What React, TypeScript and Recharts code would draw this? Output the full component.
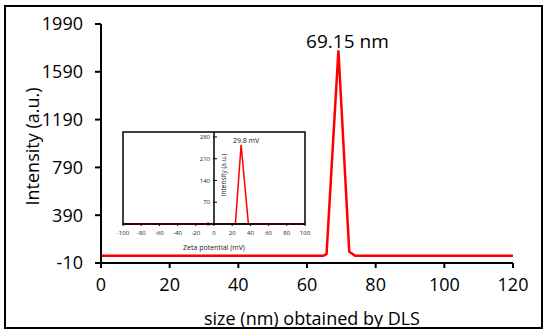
import { LineChart, Line, XAxis, YAxis, ReferenceLine, ReferenceDot, ReferenceArea } from 'recharts';

// main DLS curve
const sizeNm = [0, 64.8, 65.7, 69.15, 72.3, 74, 120];
const dlsIntensity = [50, 50, 66, 1770, 85, 50, 50];
const sizeTicks = [0, 20, 40, 60, 80, 100, 120];
const intensityTicks = [-10, 390, 790, 1190, 1590, 1990];
const peakLabel = '69.15 nm';

// inset zeta curve
const zetaMv = [-100, 23.5, 29.8, 37.8, 100];
const zetaIntensity = [0, 0, 255, 0, 0];
const zetaTicks = [-100, -80, -60, -40, -20, 0, 20, 40, 60, 80, 100];
const zetaIntensityTicks = [0, 70, 140, 210, 280];
const zetaLabel = '29.8 mV';

const dlsData = sizeNm.map((size, i) => ({ size, intensity: dlsIntensity[i] }));
const zetaData = zetaMv.map((mv, i) => ({ mv, intensity: zetaIntensity[i] }));

const FONT = '"Open Sans", sans-serif';

// inset layout
const INSET_W = 215;
const INSET_H = 130;
const INSET_MARGIN = { top: 7, right: 10, left: 22, bottom: 0 };
const INSET_YAXIS_W = 1;
const INSET_HALF = (INSET_W - INSET_MARGIN.left - INSET_YAXIS_W - INSET_MARGIN.right) / 2;

// y ticks of the inset sit on the zero line in the middle of the plot
const CenterTick = ({ x, y, payload }: any) => {
  const cx = x + INSET_HALF + INSET_YAXIS_W;
  return (
    <g>
      <line x1={cx - 2} x2={cx + 2} y1={y} y2={y} stroke="#000" strokeWidth={1} />
      <text x={cx - 5} y={y} dy="0.35em" textAnchor="end" fontSize={6} fill="#222" fontFamily={FONT}>
        {payload.value}
      </text>
    </g>
  );
};

function Inset() {
  return (
    <LineChart width={INSET_W} height={INSET_H} data={zetaData} margin={INSET_MARGIN}>
      <XAxis
        dataKey="mv"
        type="number"
        domain={[-100, 100]}
        ticks={zetaTicks}
        interval={0}
        height={31}
        tickSize={2}
        tickMargin={5}
        axisLine={{ stroke: '#000', strokeWidth: 1.5 }}
        tickLine={{ stroke: '#000' }}
        tick={{ fontSize: 6, fill: '#222', fontFamily: FONT }}
        label={{ value: 'Zeta potential (mV)', position: 'insideBottom', offset: 5, fontSize: 7, fill: '#222', fontFamily: FONT }}
      />
      <YAxis
        type="number"
        domain={[0, 296]}
        ticks={zetaIntensityTicks}
        interval={0}
        width={INSET_YAXIS_W}
        tickSize={0}
        tickMargin={0}
        tickLine={false}
        axisLine={false}
        tick={<CenterTick />}
      />
      <ReferenceArea
        x1={-100}
        x2={100}
        y1={0}
        y2={296}
        fill="none"
        stroke="#000"
        strokeWidth={1.5}
        ifOverflow="visible"
      />
      <ReferenceLine
        x={0}
        stroke="#000"
        strokeWidth={1.5}
        label={(props: any) => {
          const vb = props.viewBox;
          const lx = vb.x + 9;
          const ly = vb.y + vb.height / 2 - 3;
          return (
            <text
              x={lx}
              y={ly}
              transform={`rotate(-90, ${lx}, ${ly})`}
              textAnchor="middle"
              dominantBaseline="central"
              fontSize={6.5}
              fill="#222"
              fontFamily={FONT}
            >
              Intensity (a.u.)
            </text>
          );
        }}
      />
      <Line
        dataKey="intensity"
        stroke="#ff0000"
        strokeWidth={1.5}
        dot={false}
        isAnimationActive={false}
      />
      <ReferenceDot
        x={29.8}
        y={255}
        r={0}
        fill="none"
        stroke="none"
        label={{ value: zetaLabel, position: 'top', offset: 2, dx: 5, fontSize: 7, fill: '#222', fontFamily: FONT }}
      />
    </LineChart>
  );
}

export default function App() {
  return (
    <div style={{ position: 'absolute', left: 0, top: 0, width: 550, height: 336, background: '#fff' }}>
      <div
        style={{
          position: 'absolute',
          left: 4,
          top: 5,
          width: 539,
          height: 324,
          border: '2px solid #000',
          boxSizing: 'border-box',
        }}
      />
      <div style={{ position: 'absolute', left: 0, top: 0 }}>
        <LineChart width={550} height={336} data={dlsData} margin={{ top: 24, right: 37, left: 0, bottom: 0 }}>
          <XAxis
            dataKey="size"
            type="number"
            domain={[0, 120]}
            ticks={sizeTicks}
            interval={0}
            height={73}
            tickSize={5}
            tickMargin={10}
            axisLine={{ stroke: '#000', strokeWidth: 2 }}
            tickLine={{ stroke: '#000', strokeWidth: 2 }}
            tick={{ fontSize: 18, fill: '#000', fontFamily: FONT }}
            label={{ value: 'size (nm) obtained by DLS', position: 'insideBottom', offset: 11, dx: 5, fontSize: 18, fill: '#000', fontFamily: FONT }}
          />
          <YAxis
            type="number"
            domain={[-10, 1990]}
            ticks={intensityTicks}
            interval={0}
            width={101}
            tickSize={6}
            tickMargin={12}
            axisLine={{ stroke: '#000', strokeWidth: 2 }}
            tickLine={{ stroke: '#000', strokeWidth: 2 }}
            tick={{ fontSize: 18, fill: '#000', fontFamily: FONT }}
            label={(props: any) => {
              const vb = props.viewBox;
              const lx = vb.x + 32;
              const ly = vb.y + vb.height / 2 + 3;
              return (
                <text
                  x={lx}
                  y={ly}
                  transform={`rotate(-90, ${lx}, ${ly})`}
                  textAnchor="middle"
                  dominantBaseline="central"
                  fontSize={18}
                  fill="#000"
                  fontFamily={FONT}
                >
                  Intensity (a.u.)
                </text>
              );
            }}
          />
          <Line
            dataKey="intensity"
            stroke="#ff0000"
            strokeWidth={2.5}
            dot={false}
            isAnimationActive={false}
          />
          <ReferenceDot
            x={69.15}
            y={1770}
            r={0}
            fill="none"
            stroke="none"
            label={{ value: peakLabel, position: 'top', offset: 2, dx: 9, fontSize: 19, fill: '#000', fontFamily: FONT }}
          />
        </LineChart>
      </div>
      <div style={{ position: 'absolute', left: 100, top: 125 }}>
        <Inset />
      </div>
    </div>
  );
}
